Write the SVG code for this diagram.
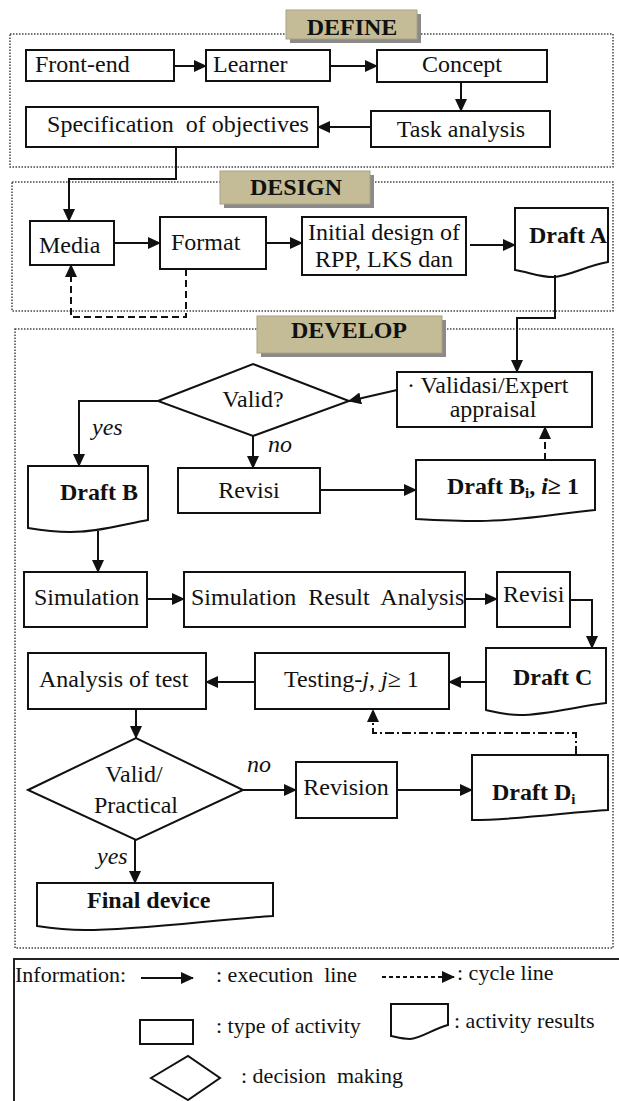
<svg xmlns="http://www.w3.org/2000/svg" width="619" height="1101" viewBox="0 0 619 1101">
<style>
.box{fill:#fff;stroke:#111;stroke-width:2}
.sec{fill:none;stroke:#444;stroke-width:1.5;stroke-dasharray:1.5,1.5}
.lbl{fill:#C4BC96;stroke:#a9a184;stroke-width:1}
.shd{fill:#8a8a8a}
.t{font-family:"Liberation Serif","Times New Roman",serif;font-size:24px;fill:#111}
.b{font-weight:bold}
.i{font-style:italic}
.c{text-anchor:middle}
.ln{fill:none;stroke:#111;stroke-width:2}
.arr{marker-end:url(#ah)}
.dash{stroke-dasharray:7,4}
.dd{stroke-dasharray:9,3,2,3}
.lg{font-size:22px}
</style>
<defs>
<marker id="ah" markerUnits="userSpaceOnUse" markerWidth="13" markerHeight="12" refX="12" refY="6" orient="auto">
<path d="M0,0 L13,6 L0,12 z" fill="#111"/>
</marker>
</defs>

<!-- section frames -->
<g id="sections">
<rect class="sec" x="10" y="34" width="603" height="133"/>
<rect class="sec" x="12" y="182" width="601" height="129"/>
<rect class="sec" x="15" y="329" width="598" height="619"/>
</g>

<g id="define-label">
<rect class="shd" x="290" y="14" width="131" height="29"/>
<rect class="lbl" x="286" y="10" width="131" height="29"/>
<text class="t b c" x="352" y="35">DEFINE</text>
</g>
<g id="design-label">
<rect class="shd" x="224" y="175" width="150" height="33"/>
<rect class="lbl" x="220" y="171" width="150" height="33"/>
<text class="t b c" x="296" y="195">DESIGN</text>
</g>
<g id="develop-label">
<rect class="shd" x="261" y="320" width="185" height="37"/>
<rect class="lbl" x="257" y="316" width="185" height="37"/>
<text class="t b c" x="349" y="338">DEVELOP</text>
</g>

<!-- DEFINE -->
<g id="frontend"><rect class="box" x="26" y="50" width="148" height="31"/><text class="t" x="35" y="72">Front-end</text></g>
<g id="learner"><rect class="box" x="206" y="50" width="124" height="31"/><text class="t" x="213" y="72">Learner</text></g>
<g id="concept"><rect class="box" x="377" y="50" width="170" height="32"/><text class="t c" x="462" y="72">Concept</text></g>
<g id="task"><rect class="box" x="371" y="111" width="179" height="36"/><text class="t c" x="461" y="137">Task analysis</text></g>
<g id="spec"><rect class="box" x="26" y="107" width="292" height="40"/><text class="t c" x="178" y="132" xml:space="preserve">Specification  of objectives</text></g>

<!-- DESIGN -->
<g id="media"><rect class="box" x="30" y="221" width="84" height="44"/><text class="t" x="39" y="253">Media</text></g>
<g id="format"><rect class="box" x="160" y="217" width="106" height="52"/><text class="t" x="171" y="250">Format</text></g>
<g id="initial"><rect class="box" x="302" y="217" width="164" height="58"/><text class="t c" x="384" y="240">Initial design of</text><text class="t c" x="384" y="267">RPP, LKS dan</text></g>
<g id="draftA"><path class="box" d="M515,208 H608 V262 C585,266 570,276 553,277 C540,277 528,272 515,270 Z"/><text class="t b" x="529" y="243">Draft A</text></g>

<!-- DEVELOP -->
<g id="valid1"><path class="box" d="M158,401 L253,364 L349,401 L253,436 Z"/><text class="t c" x="253" y="407">Valid?</text></g>
<g id="validasi"><rect class="box" x="397" y="372" width="195" height="55"/><text class="t" font-size="22" x="407" y="393">· Validasi/Expert</text><text class="t c" font-size="22" x="493" y="417">appraisal</text></g>
<g id="draftB"><path class="box" d="M28,466 H148 V520 C125,524 100,532 70,532 C55,532 40,530 28,528 Z"/><text class="t b" x="60" y="500">Draft B</text></g>
<g id="revisi1"><rect class="box" x="178" y="468" width="142" height="45"/><text class="t c" x="249" y="498">Revisi</text></g>
<g id="draftBi"><path class="box" d="M416,460 H595 V510 C560,513 520,521 480,521 C455,521 435,520 416,519 Z"/><text class="t b" x="447" y="494">Draft B<tspan font-size="15" dy="4">i</tspan><tspan dy="-4">, </tspan><tspan class="i">i</tspan>≥ 1</text></g>
<g id="simulation"><rect class="box" x="24" y="572" width="123" height="55"/><text class="t" x="34" y="605">Simulation</text></g>
<g id="sra"><rect class="box" x="184" y="572" width="281" height="55"/><text class="t" x="191" y="605" xml:space="preserve">Simulation  Result  Analysis</text></g>
<g id="revisi2"><rect class="box" x="497" y="572" width="73" height="55"/><text class="t" x="503" y="602">Revisi</text></g>
<g id="draftC"><path class="box" d="M486,648 H606 V703 C580,706 545,715 520,715 C505,715 495,712 486,710 Z"/><text class="t b" x="513" y="685">Draft C</text></g>
<g id="testing"><rect class="box" x="255" y="653" width="194" height="56"/><text class="t" x="284" y="687">Testing-<tspan class="i">j</tspan>, <tspan class="i">j</tspan>≥ 1</text></g>
<g id="analysis"><rect class="box" x="28" y="653" width="178" height="56"/><text class="t" x="39" y="687">Analysis of test</text></g>
<g id="valid2"><path class="box" d="M28,790 L136,738 L243,790 L136,840 Z"/><text class="t c" x="134" y="782">Valid/</text><text class="t c" x="136" y="813">Practical</text></g>
<g id="revision"><rect class="box" x="296" y="762" width="101" height="56"/><text class="t c" x="346" y="795">Revision</text></g>
<g id="draftDi"><path class="box" d="M472,755 H608 V810 C570,812 520,820 472,820 Z"/><text class="t b" x="492" y="800">Draft D<tspan font-size="15" dy="4">i</tspan></text></g>
<g id="final"><path class="box" d="M37,883 H273 V916 C220,919 140,930 85,930 C65,930 50,928 37,926 Z"/><text class="t b" x="87" y="908">Final device</text></g>

<!-- connectors -->
<g id="connectors">
<path class="ln arr" d="M174,66 H206"/>
<path class="ln arr" d="M330,66 H377"/>
<path class="ln arr" d="M461,82 V111"/>
<path class="ln arr" d="M371,127 H318"/>
<path class="ln arr" d="M176,147 V179 H69 V221"/>
<path class="ln arr" d="M114,243 H160"/>
<path class="ln arr" d="M266,243 H302"/>
<path class="ln arr" d="M470,245 H515"/>
<path class="ln arr" d="M555,275 V318 H517 V372"/>
<path class="ln arr dash" d="M186,269 V317 H71 V265"/>
<path class="ln arr" d="M397,390 L349,401"/>
<path class="ln arr" d="M158,401 H79 V466"/>
<path class="ln arr" d="M253,436 V468"/>
<path class="ln arr" d="M320,490 H416"/>
<path class="ln arr dash" d="M545,460 V427"/>
<path class="ln arr" d="M98,531 V572"/>
<path class="ln arr" d="M147,599 H184"/>
<path class="ln arr" d="M465,599 H497"/>
<path class="ln arr" d="M570,600 H592 V648"/>
<path class="ln arr" d="M486,682 H449"/>
<path class="ln arr" d="M255,682 H206"/>
<path class="ln arr" d="M136,709 V738"/>
<path class="ln arr dd" d="M576,755 V733 H373 V710"/>
<path class="ln arr" d="M243,790 H296"/>
<path class="ln arr" d="M397,790 H472"/>
<path class="ln arr" d="M135,840 V883"/>
<text class="t i" font-size="20" x="92" y="435">yes</text>
<text class="t i" font-size="20" x="268" y="452">no</text>
<text class="t i" font-size="20" x="247" y="772">no</text>
<text class="t i" font-size="20" x="97" y="864">yes</text>
</g>

<!-- legend -->
<g id="legend">
<rect x="14" y="959" width="610" height="160" fill="none" stroke="#222" stroke-width="2"/>
<text class="t lg" x="15" y="982">Information:</text>
<path class="ln arr" d="M141,978 H193"/>
<text class="t lg" x="216" y="982" xml:space="preserve">: execution  line</text>
<path class="ln arr" d="M382,977 H454" stroke-dasharray="4,3"/>
<text class="t lg" x="457" y="980">: cycle line</text>
<rect class="box" x="140" y="1020" width="53" height="24" stroke-width="1.5"/>
<text class="t lg" x="216" y="1033">: type of activity</text>
<path class="box" stroke-width="1.5" d="M391,1004 H448 V1025 C435,1028 420,1039 410,1039 C402,1039 396,1037 391,1036 Z"/>
<text class="t lg" x="454" y="1028">: activity results</text>
<path class="box" stroke-width="1.5" d="M151,1078 L188,1056 L220,1078 L188,1100 Z"/>
<text class="t lg" x="241" y="1083" xml:space="preserve">: decision  making</text>
</g>
</svg>
